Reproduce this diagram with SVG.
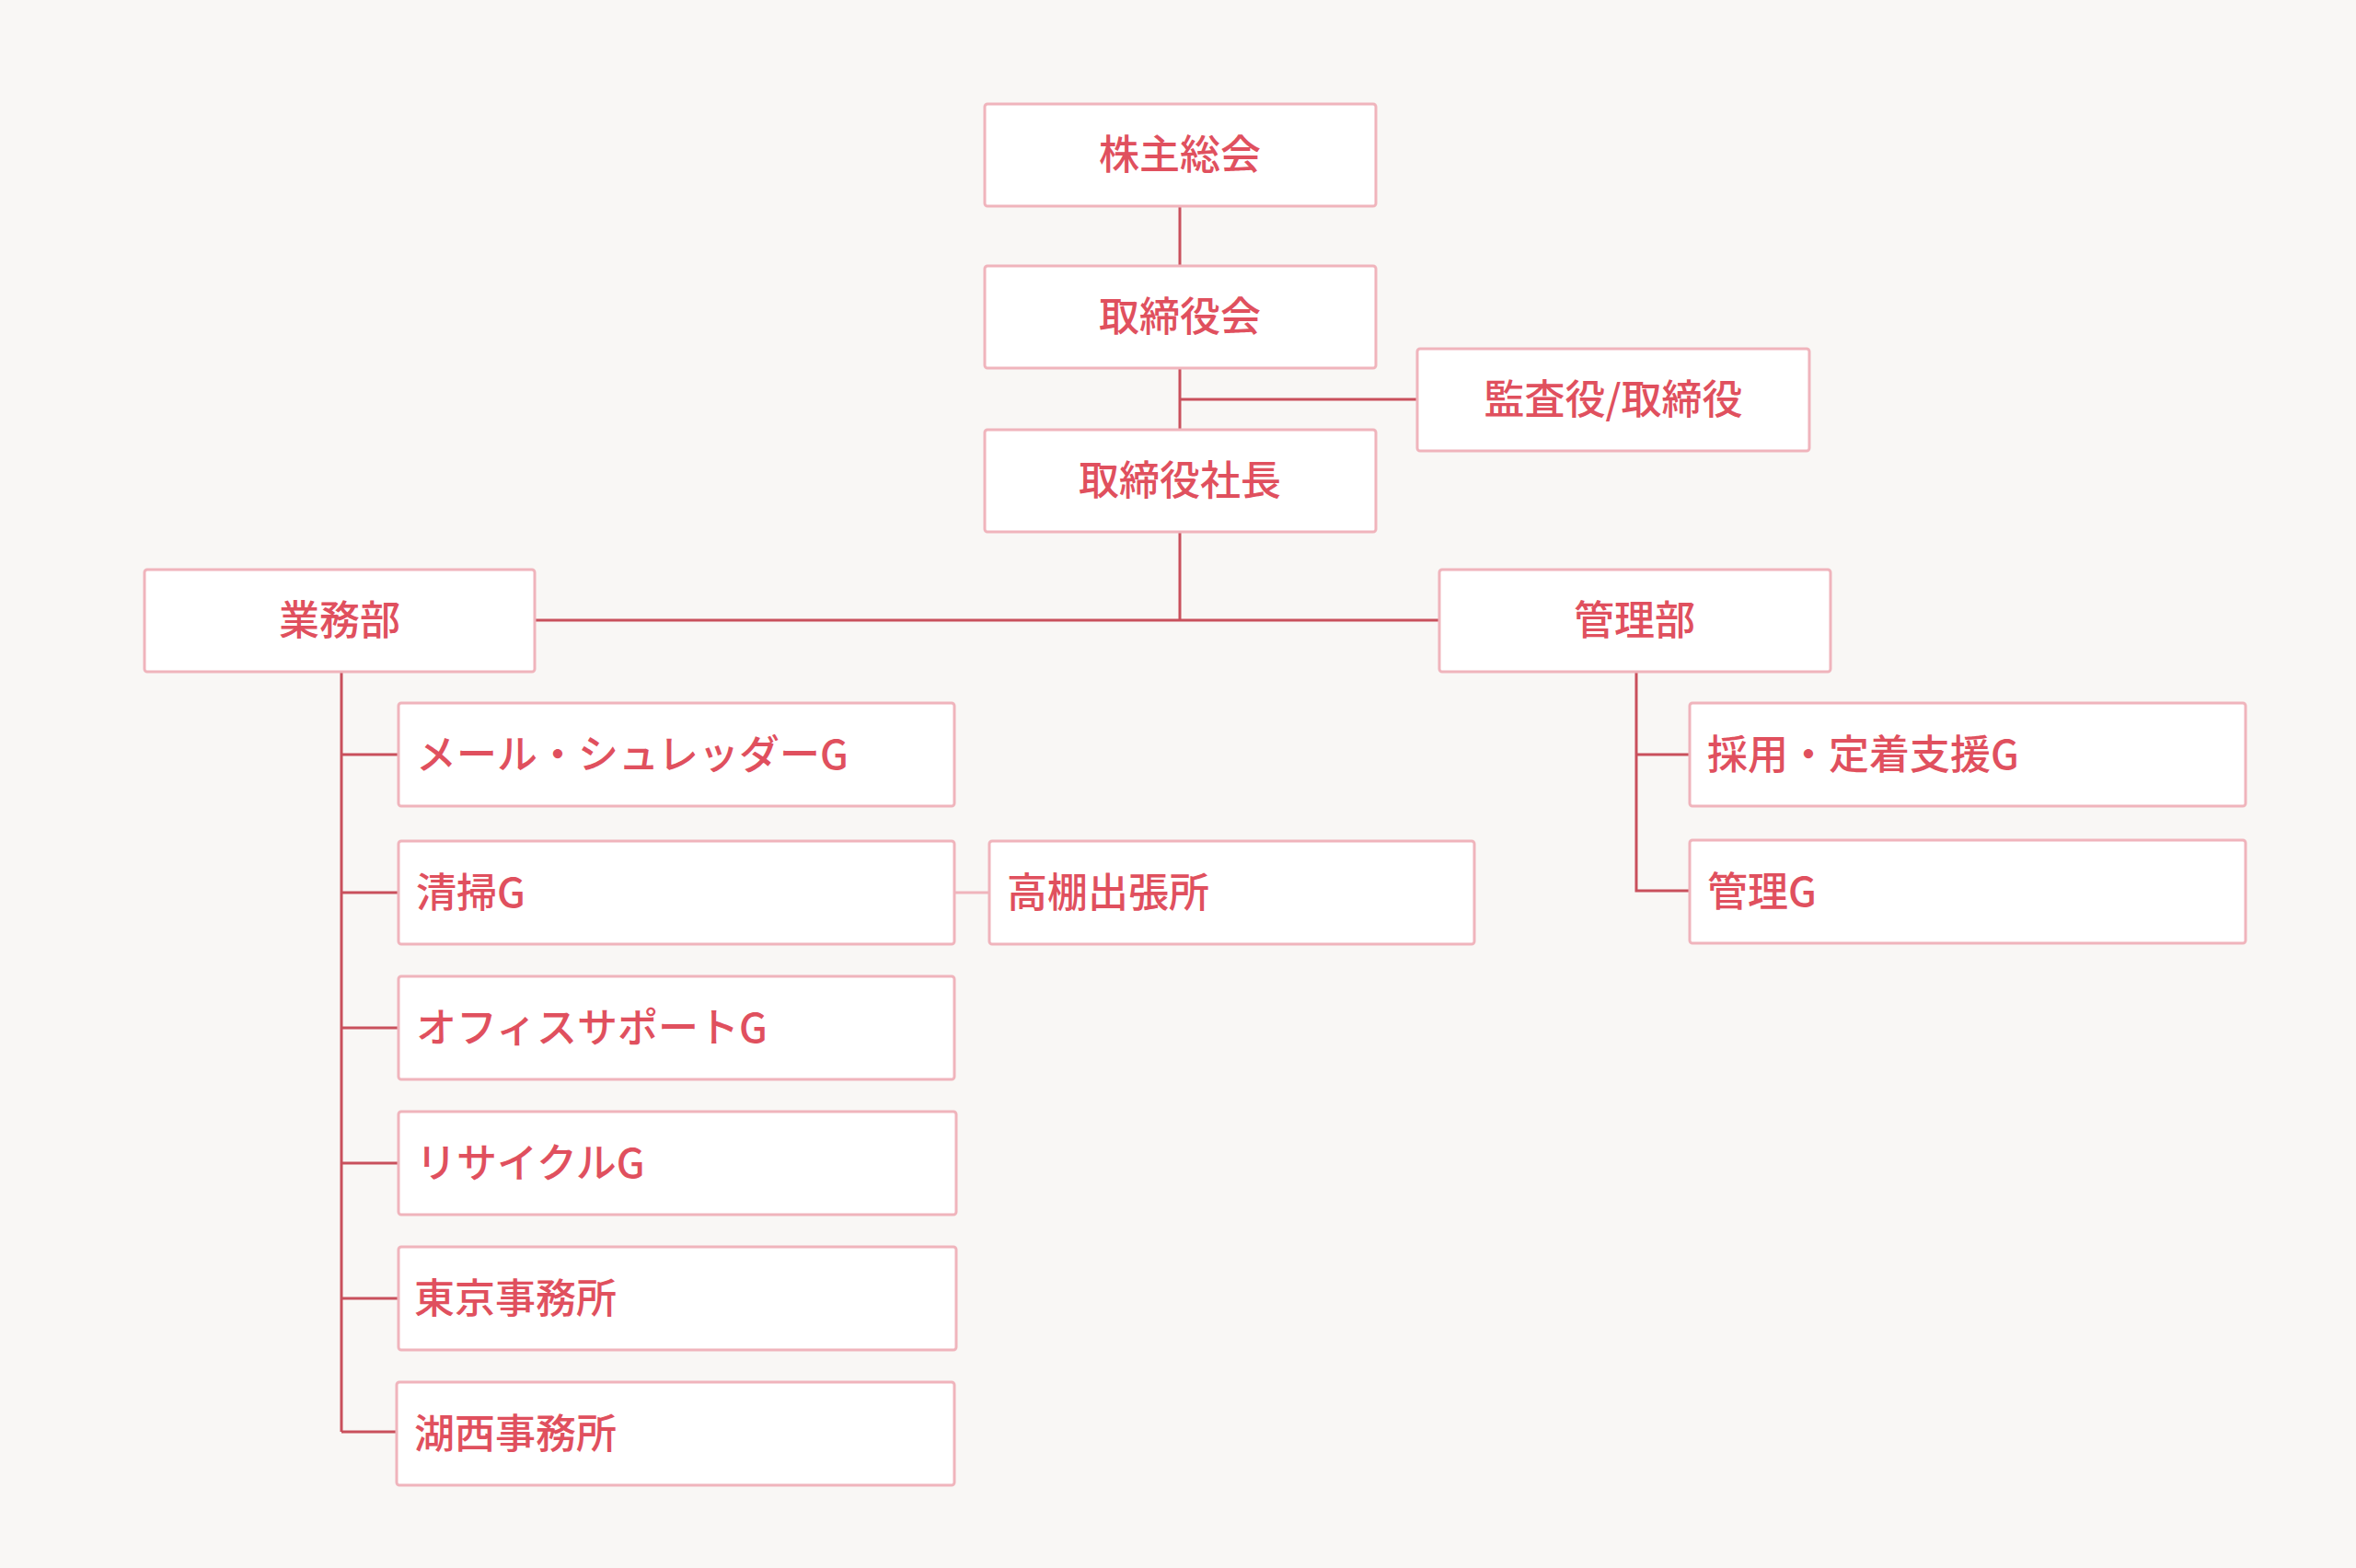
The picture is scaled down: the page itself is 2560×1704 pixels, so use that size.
<svg xmlns="http://www.w3.org/2000/svg" width="2560" height="1704" viewBox="0 0 2560 1704">
<style>
.b{fill:#fff;stroke:#f0b4bc;stroke-width:3}
.t{font-family:"Noto Sans CJK JP","Noto Sans",sans-serif;font-size:44px;font-weight:500;fill:#e0505e;dominant-baseline:central}
.c{text-anchor:middle}
.l{stroke:#c9505c;stroke-width:3;fill:none}
.lt{stroke:#f0b4bc;stroke-width:3;fill:none}
</style>
<rect width="2560" height="1704" fill="#f9f7f5"/>
<g id="connectors">
<path class="l" d="M1282 224V289M1282 400V467M1282 434H1540M1282 578V674M581 674H1564M371 730V1556M371 820H433M371 970H433M371 1117H433M371 1264H433M371 1411H433M371 1556H433M1778 730V968H1836M1778 820H1836"/>
<path class="lt" d="M1037 970H1075"/>
</g>
<g id="n1"><rect class="b" x="1070" y="113" width="425" height="111" rx="3"/><text class="t c" x="1282" y="165">株主総会</text></g>
<g id="n2"><rect class="b" x="1070" y="289" width="425" height="111" rx="3"/><text class="t c" x="1282" y="341">取締役会</text></g>
<g id="n3"><rect class="b" x="1540" y="379" width="426" height="111" rx="3"/><text class="t c" x="1753" y="431">監査役/取締役</text></g>
<g id="n4"><rect class="b" x="1070" y="467" width="425" height="111" rx="3"/><text class="t c" x="1282" y="519">取締役社長</text></g>
<g id="n5"><rect class="b" x="157" y="619" width="424" height="111" rx="3"/><text class="t c" x="369" y="671">業務部</text></g>
<g id="n6"><rect class="b" x="1564" y="619" width="425" height="111" rx="3"/><text class="t c" x="1776" y="671">管理部</text></g>
<g id="n7"><rect class="b" x="433" y="764" width="604" height="112" rx="3"/><text class="t" x="452" y="817">メール・シュレッダーG</text></g>
<g id="n8"><rect class="b" x="433" y="914" width="604" height="112" rx="3"/><text class="t" x="452" y="967">清掃G</text></g>
<g id="n9"><rect class="b" x="433" y="1061" width="604" height="112" rx="3"/><text class="t" x="452" y="1114">オフィスサポートG</text></g>
<g id="n10"><rect class="b" x="433" y="1208" width="606" height="112" rx="3"/><text class="t" x="452" y="1261">リサイクルG</text></g>
<g id="n11"><rect class="b" x="433" y="1355" width="606" height="112" rx="3"/><text class="t" x="450" y="1408">東京事務所</text></g>
<g id="n12"><rect class="b" x="431" y="1502" width="606" height="112" rx="3"/><text class="t" x="450" y="1555">湖西事務所</text></g>
<g id="n13"><rect class="b" x="1075" y="914" width="527" height="112" rx="3"/><text class="t" x="1094" y="967">高棚出張所</text></g>
<g id="n14"><rect class="b" x="1836" y="764" width="604" height="112" rx="3"/><text class="t" x="1855" y="817">採用・定着支援G</text></g>
<g id="n15"><rect class="b" x="1836" y="913" width="604" height="112" rx="3"/><text class="t" x="1855" y="966">管理G</text></g>
</svg>
